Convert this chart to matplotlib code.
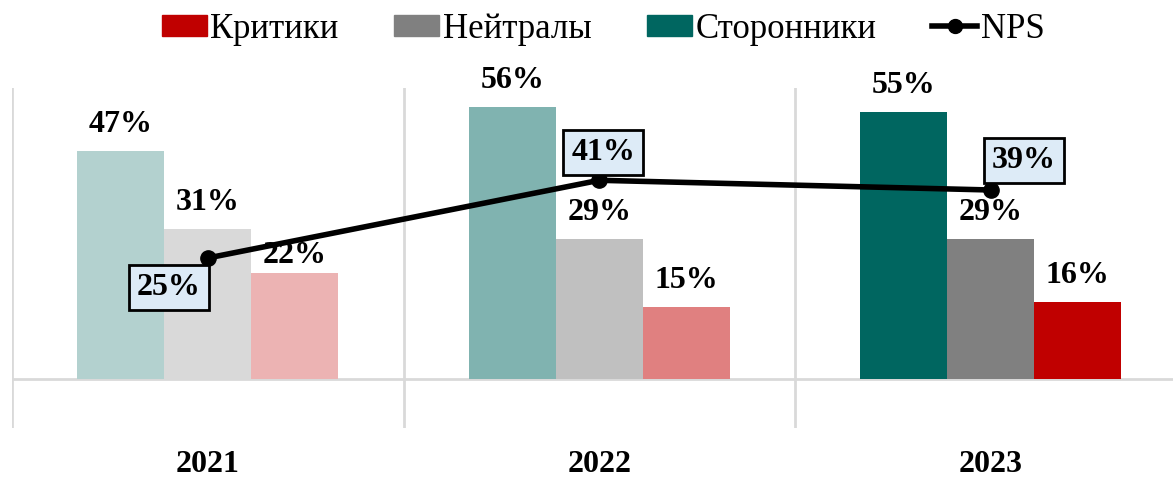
import numpy as np
import matplotlib.pyplot as plt
from matplotlib.colors import to_rgb
from matplotlib.patches import Patch
from matplotlib.lines import Line2D

plt.rcParams['font.family'] = ['Liberation Serif', 'DejaVu Serif']

years = ['2021', '2022', '2023']
promoters = [47, 56, 55]   # Сторонники
passives = [31, 29, 29]    # Нейтралы
detractors = [22, 15, 16]  # Критики
nps = [25, 41, 39]

teal = '#006660'
gray = '#808080'
red = '#C00000'
year_alpha = [0.3, 0.5, 1.0]


def tint(c, a):
    r, g, b = to_rgb(c)
    return (1 - a + a * r, 1 - a + a * g, 1 - a + a * b)


fig = plt.figure(figsize=(11.73, 4.79), dpi=100)
ax = fig.add_axes([12 / 1173, 1 - 428 / 479, 1 - 12 / 1173, (428 - 88) / 479])

x = np.arange(len(years))
w = 0.222

for i in range(len(years)):
    a = year_alpha[i]
    for k, (vals, c) in enumerate([(promoters, teal), (passives, gray), (detractors, red)]):
        bx = x[i] + (k - 1) * w
        ax.bar(bx, vals[i], w, color=tint(c, a), zorder=2)
        dy = 3 if (i == 0 and k == 2) else 12
        ax.annotate(f'{vals[i]}%', (bx, vals[i]), xytext=(0, dy * 0.72),
                    textcoords='offset points', ha='center', va='bottom',
                    fontsize=23, fontweight='bold', zorder=5)

ax.plot(x, nps, color='black', lw=4, marker='o', ms=11, zorder=4,
        solid_capstyle='round')
offsets = [(-28, -21), (3, 20), (24, 21)]
for i in range(len(years)):
    ax.annotate(f'{nps[i]}%', (x[i], nps[i]), xytext=offsets[i],
                textcoords='offset points', ha='center', va='center',
                fontsize=23, fontweight='bold', zorder=6,
                bbox=dict(boxstyle='square,pad=0.25', fc='#DDEBF7', ec='black', lw=2))

handles = [Patch(color=red), Patch(color=gray), Patch(color=teal),
           Line2D([], [], color='black', lw=4, marker='o', ms=10)]
labels = ['Критики', 'Нейтралы', 'Сторонники', 'NPS']
fig.legend(handles, labels, loc='center', bbox_to_anchor=(603 / 1173, 1 - 29 / 479),
           ncol=4, frameon=False, fontsize=25, handlelength=1.3, handleheight=0.55,
           handletextpad=0.1, columnspacing=1.6, borderaxespad=0)

ax.set_xlim(-0.5, -0.5 + (1173 - 12) / 391.5)
ax.set_ylim(-10, 60)
ax.axhline(0, color='#D9D9D9', lw=2, zorder=1)
for b in [-0.5, 0.5, 1.5, 2.5]:
    ax.axvline(b, color='#D9D9D9', lw=2, zorder=1)
for s in ax.spines.values():
    s.set_visible(False)
ax.set_yticks([])
ax.set_xticks(x)
ax.set_xticklabels(years, fontsize=23, fontweight='bold')
ax.tick_params(axis='x', length=0, pad=16)

fig.savefig('out.png', dpi=100)
